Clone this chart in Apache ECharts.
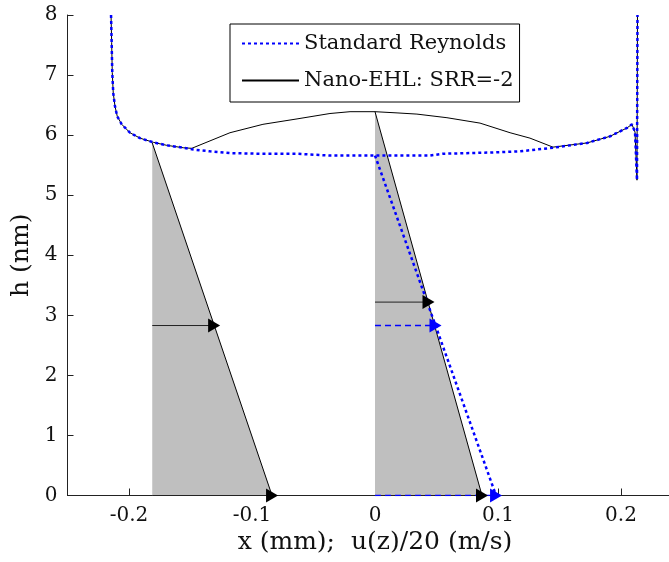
<!DOCTYPE html>
<html>
<head>
<meta charset="utf-8">
<script src="https://cdn.jsdelivr.net/npm/echarts@6/dist/echarts.min.js"></script>
<style>
html,body{margin:0;padding:0;background:#fff;overflow:hidden;width:669px;height:562px;}
#c{width:683px;height:562px;}
</style>
</head>
<body>
<div id="c"></div>
<script>
// ---- data ----
const xTicks = [-0.2, -0.1, 0, 0.1, 0.2];
const yTicks = [0, 1, 2, 3, 4, 5, 6, 7, 8];

// Standard Reynolds film thickness h (nm) vs x (mm)
const reynoldsX = [-0.2146,-0.2141,-0.2136,-0.2128,-0.2114,-0.2095,-0.2059,-0.1992,-0.1911,-0.1802,-0.1693,-0.1559,-0.1477,-0.1341,-0.1179,-0.0935,-0.0634,-0.0366,0,0.0447,0.0553,0.0935,0.1179,0.1447,0.1724,0.1911,0.2049,0.2089,0.2114,0.2130,0.2134];
const reynoldsH = [8.00,7.54,7.04,6.70,6.48,6.31,6.18,6.04,5.95,5.88,5.83,5.79,5.76,5.73,5.70,5.69,5.69,5.66,5.66,5.66,5.69,5.71,5.73,5.79,5.87,5.98,6.12,6.18,6.05,5.25,8.00];

// Nano-EHL SRR=-2
const nanoX = [-0.2146,-0.2141,-0.2136,-0.2128,-0.2114,-0.2095,-0.2059,-0.1992,-0.1911,-0.1802,-0.1693,-0.1559,-0.1490,-0.1477,-0.1179,-0.0911,-0.0634,-0.0366,-0.0203,0,0.0179,0.0341,0.0585,0.0854,0.1098,0.1260,0.1447,0.1724,0.1911,0.2049,0.2089,0.2114,0.2130,0.2134];
const nanoH = [8.00,7.54,7.04,6.70,6.48,6.31,6.18,6.04,5.95,5.88,5.83,5.79,5.78,5.81,6.04,6.18,6.27,6.36,6.39,6.39,6.37,6.35,6.29,6.20,6.04,5.95,5.80,5.87,5.98,6.12,6.18,6.05,5.25,8.00];

// velocity profiles: [left (both models), middle Nano-EHL, middle Reynolds]
const profileBaseX = [-0.1811, 0, 0];
const profileTopH  = [5.87, 6.39, 5.66];
const profileWallX = [-0.0837, 0.087, 0.0984];
const arrowH       = [2.83, 3.22, 2.83];
const arrowEndX    = [-0.1308, 0.0435, 0.0492];

const FONT = 'DejaVu Serif';
const BLUE = '#0000ff';
const zip = (a, b) => a.map((v, i) => [v, b[i]]);
const headPath = 'path://M0,0L12,7L0,14Z';

const series = [];
// gray filled profiles (left and middle Nano-EHL)
[0, 1].forEach(i => {
  series.push({
    type: 'line', silent: true, symbol: 'none', z: 1,
    data: [[profileBaseX[i], profileTopH[i]], [profileWallX[i], 0]],
    lineStyle: { color: '#000', width: 1 },
    areaStyle: { color: '#bfbfbf', opacity: 1 }
  });
});
// blue Reynolds middle profile
series.push({
  type: 'line', silent: true, symbol: 'none', z: 3,
  data: [[profileBaseX[2], profileTopH[2]], [profileWallX[2], 0]],
  lineStyle: { color: BLUE, width: 2.5, type: [3, 3] }
});
// arrow shafts
[0, 1].forEach(i => {
  series.push({ type: 'line', silent: true, symbol: 'none', z: 2,
    data: [[profileBaseX[i], arrowH[i]], [arrowEndX[i], arrowH[i]]],
    lineStyle: { color: '#222', width: 1 } });
  series.push({ type: 'line', silent: true, symbol: 'none', z: 2,
    data: [[profileBaseX[i], 0], [profileWallX[i], 0]],
    lineStyle: { color: '#222', width: 1 } });
});
series.push({ type: 'line', silent: true, symbol: 'none', z: 4,
  data: [[profileBaseX[2], arrowH[2]], [arrowEndX[2], arrowH[2]]],
  lineStyle: { color: BLUE, width: 1.5, type: [6, 4] } });
series.push({ type: 'line', silent: true, symbol: 'none', z: 4,
  data: [[profileBaseX[2], 0], [profileWallX[2], 0]],
  lineStyle: { color: BLUE, width: 1.5, type: [6, 4] } });
// arrow heads
series.push({
  type: 'scatter', silent: true, z: 6, symbol: headPath, symbolSize: [12, 14],
  itemStyle: { color: '#000', opacity: 1 },
  data: [[arrowEndX[0], arrowH[0]], [profileWallX[0], 0], [arrowEndX[1], arrowH[1]], [profileWallX[1], 0]]
});
series.push({
  type: 'scatter', silent: true, z: 6, symbol: headPath, symbolSize: [12, 14],
  itemStyle: { color: BLUE, opacity: 1 },
  data: [[arrowEndX[2], arrowH[2]], [profileWallX[2], 0]]
});
// main curves
series.push({
  name: 'Standard Reynolds', type: 'line', symbol: 'none', z: 5, silent: true,
  data: zip(reynoldsX, reynoldsH),
  lineStyle: { color: BLUE, width: 2.5, type: [3, 3] }, itemStyle: { color: BLUE, opacity: 0 }
});
series.push({
  name: 'Nano-EHL: SRR=-2', type: 'line', symbol: 'none', z: 4, silent: true,
  data: zip(nanoX, nanoH),
  lineStyle: { color: '#000', width: 1 }, itemStyle: { color: '#000', opacity: 0 }
});

const chart = echarts.init(document.getElementById('c'), null, { renderer: 'canvas' });
chart.setOption({
  animation: false,
  backgroundColor: '#fff',
  textStyle: { fontFamily: FONT },
  grid: { left: 67.5, right: 0.5, top: 15, bottom: 66.5, containLabel: false },
  legend: {
    data: ['Standard Reynolds', 'Nano-EHL: SRR=-2'],
    orient: 'vertical', left: 230, top: 24,
    padding: [9, 6, 11, 11], itemGap: 16, itemWidth: 57, itemHeight: 20,
    borderColor: '#000', borderWidth: 1, backgroundColor: '#fff',
    itemStyle: { opacity: 0 },
    textStyle: { fontFamily: FONT, fontSize: 21, color: '#111' },
    selectedMode: false
  },
  xAxis: {
    type: 'value', min: -0.25, max: 0.25,
    name: 'x (mm);  u(z)/20 (m/s)', nameLocation: 'middle', nameGap: 34,
    nameTextStyle: { fontFamily: FONT, fontSize: 25, color: '#111' },
    axisLine: { show: true, onZero: false, lineStyle: { color: '#222', width: 1 } },
    axisTick: { show: true, inside: true, length: 7, customValues: xTicks, lineStyle: { color: '#222' } },
    axisLabel: { customValues: xTicks, margin: 10, fontFamily: FONT, fontSize: 20, color: '#111',
      formatter: v => String(v) },
    splitLine: { show: false }
  },
  yAxis: {
    type: 'value', min: 0, max: 8, interval: 1,
    name: 'h (nm)', nameLocation: 'middle', nameGap: 26, nameRotate: 90,
    nameTextStyle: { fontFamily: FONT, fontSize: 25, color: '#111' },
    axisLine: { show: true, onZero: false, lineStyle: { color: '#222', width: 1 } },
    axisTick: { show: true, inside: true, length: 6, lineStyle: { color: '#222' } },
    axisLabel: { margin: 10, fontFamily: FONT, fontSize: 20, color: '#111' },
    splitLine: { show: false }
  },
  series: series
});
</script>
</body>
</html>
